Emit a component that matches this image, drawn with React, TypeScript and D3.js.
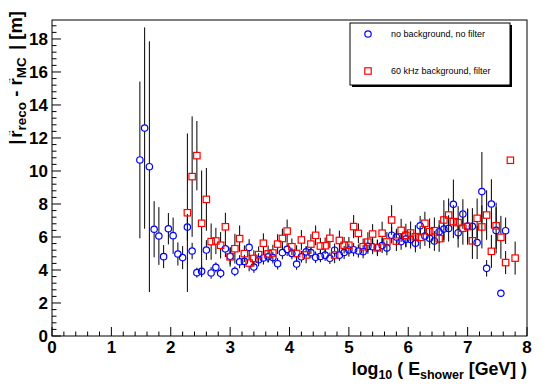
import React from "react";
import * as d3 from "d3";

// bin centres of log10(E_shower / GeV), one entry per histogram bin
const binCenters = [
  1.48, 1.56, 1.64, 1.72, 1.8, 1.88, 1.96, 2.04, 2.12, 2.2,
  2.28, 2.36, 2.44, 2.52, 2.6, 2.68, 2.76, 2.84, 2.92, 3.0,
  3.08, 3.16, 3.24, 3.32, 3.4, 3.48, 3.56, 3.64, 3.72, 3.8,
  3.88, 3.96, 4.04, 4.12, 4.2, 4.28, 4.36, 4.44, 4.52, 4.6,
  4.68, 4.76, 4.84, 4.92, 5.0, 5.08, 5.16, 5.24, 5.32, 5.4,
  5.48, 5.56, 5.64, 5.72, 5.8, 5.88, 5.96, 6.04, 6.12, 6.2,
  6.28, 6.36, 6.44, 6.52, 6.6, 6.68, 6.76, 6.84, 6.92, 7.0,
  7.08, 7.16, 7.24, 7.32, 7.4, 7.48, 7.56, 7.64, 7.72, 7.8,
];

// no background, no filter
const blueY = [
  10.67, 12.6, 10.26, 6.47, 6.06, 4.81, 6.5, 6.08, 4.97, 4.75,
  6.6, 5.15, 3.84, 3.92, 5.21, 3.82, 4.16, 3.8, 5.28, 4.83,
  3.92, 4.5, 4.52, 5.37, 4.18, 4.62, 4.73, 4.8, 4.75, 4.38,
  5.05, 5.25, 5.0, 4.36, 4.8, 5.1, 5.05, 4.77, 4.82, 4.9,
  4.71, 5.2, 4.9, 5.06, 5.21, 5.23, 5.15, 5.11, 5.43, 5.41,
  5.38, 5.48, 5.34, 6.11, 6.0, 5.72, 5.87, 5.85, 5.62, 6.68,
  6.06, 5.92, 5.76, 6.32, 6.48, 6.52, 7.98, 6.26, 7.39, 6.67,
  6.65, 5.66, 8.75, 4.1, 8.0, 6.4, 2.59, 6.38, null, null,
];
const blueErr = [
  4.75, 6.1, 7.6, 1.7, 1.75, 0.7, 0.95, 1.1, 0.7, 0.7,
  0.8, 0.5, 0.3, 0.35, 0.6, 0.35, 0.3, 0.3, 0.5, 0.5,
  0.3, 0.4, 0.4, 0.5, 0.35, 0.4, 0.4, 0.35, 0.35, 0.35,
  0.4, 0.4, 0.35, 0.35, 0.35, 0.35, 0.35, 0.35, 0.35, 0.35,
  0.35, 0.4, 0.35, 0.4, 0.4, 0.4, 0.4, 0.4, 0.45, 0.45,
  0.45, 0.45, 0.45, 0.5, 0.5, 0.5, 0.5, 0.55, 0.55, 0.6,
  0.6, 0.6, 0.6, 0.7, 0.8, 0.8, 1.5, 0.9, 0.9, 1.0,
  1.1, 1.0, 2.4, 0.5, 1.5, 1.4, 0.1, 0.8, null, null,
];

// 60 kHz background, filter
const redY = [
  null, null, null, null, null, null, null, null, null, null,
  7.47, 9.66, 10.93, 6.83, 8.28, 5.72, 5.76, 5.5, 6.62, 4.8,
  5.29, 5.9, 4.99, 4.42, 4.7, 4.93, 5.62, 4.98, 5.03, 5.57,
  5.91, 6.36, 5.41, 5.0, 5.82, 4.91, 5.57, 6.1, 5.45, 5.47,
  5.92, 4.91, 5.79, 5.5, 5.5, 6.63, 6.22, 5.41, 5.69, 6.18,
  5.34, 6.23, 5.7, 7.03, 5.75, 6.4, 6.1, 6.24, 6.02, 5.98,
  6.83, 6.32, 6.38, 5.9, 7.03, 7.33, 6.93, 6.87, 6.53, 6.63,
  5.77, 7.13, 6.61, 7.33, 5.13, 6.68, 5.98, 4.45, 10.65, 4.72,
];
const redErr = [
  null, null, null, null, null, null, null, null, null, null,
  4.8, 3.65, 2.1, 3.2, 1.9, 1.1, 0.8, 0.8, 0.85, 0.6,
  0.9, 0.8, 0.5, 0.5, 0.5, 0.5, 0.6, 0.5, 0.5, 0.6,
  0.6, 0.7, 0.5, 0.5, 0.6, 0.5, 0.6, 0.6, 0.5, 0.5,
  0.6, 0.5, 0.6, 0.5, 0.5, 0.7, 0.6, 0.5, 0.6, 0.6,
  0.5, 0.7, 0.6, 0.9, 0.6, 0.7, 0.7, 0.7, 0.7, 0.7,
  0.7, 0.8, 0.8, 0.8, 1.2, 1.0, 1.0, 1.0, 1.0, 1.1,
  1.1, 1.2, 1.3, 1.5, 1.0, 1.4, 1.3, 0.7, 0, 1.0,
];

const xTickLabels = ["0", "1", "2", "3", "4", "5", "6", "7", "8"];
const yTickLabels = ["0", "2", "4", "6", "8", "10", "12", "14", "16", "18"];
const legendLabels = ["no background, no filter", "60 kHz background, filter"];

const width = 545;
const height = 389;
const frame = { left: 52, right: 527, top: 20, bottom: 336 };
const font = "'Liberation Sans', Arial, Helvetica, sans-serif";
const markR = 3.2;

type Pt = { x: number; y: number; e: number };

function toPoints(ys: (number | null)[], errs: (number | null)[]): Pt[] {
  const pts: Pt[] = [];
  ys.forEach((v, i) => {
    if (v == null) return;
    pts.push({ x: binCenters[i], y: v, e: errs[i] ?? 0 });
  });
  return pts;
}

export default function App() {
  const x = d3.scaleLinear().domain([0, 8]).range([frame.left, frame.right]);
  const y = d3.scaleLinear().domain([0, 19.15]).range([frame.bottom, frame.top]);

  const blue = toPoints(blueY, blueErr);
  const red = toPoints(redY, redErr);

  const xMinor = d3.range(0, 8.001, 0.2);
  const yMinor = d3.range(0, 19.15, 0.4);

  // error bar, broken around the marker like ROOT does
  const errBars = (pts: Pt[], key: string) =>
    pts.map((p, i) => {
      const cx = x(p.x);
      const cy = y(p.y);
      const top = y(p.y + p.e);
      const bot = y(p.y - p.e);
      const segs: JSX.Element[] = [];
      if (top < cy - markR)
        segs.push(<line key={key + i + "t"} x1={cx} x2={cx} y1={top} y2={cy - markR} />);
      if (bot > cy + markR)
        segs.push(<line key={key + i + "b"} x1={cx} x2={cx} y1={cy + markR} y2={bot} />);
      return segs;
    });

  return (
    <svg
      width={width}
      height={height}
      style={{ position: "absolute", left: 0, top: 0, background: "#fff" }}
      fontFamily={font}
    >
      <rect x={0} y={0} width={width} height={height} fill="#fff" />

      {/* frame */}
      <rect
        x={frame.left}
        y={frame.top}
        width={frame.right - frame.left}
        height={frame.bottom - frame.top}
        fill="none"
        stroke="#000"
        strokeWidth={1}
      />

      {/* ticks */}
      <g stroke="#000" strokeWidth={1}>
        {xMinor.map((t, i) => {
          const major = i % 5 === 0;
          return (
            <line
              key={"xt" + i}
              x1={x(t)}
              x2={x(t)}
              y1={frame.bottom}
              y2={frame.bottom - (major ? 9 : 4.5)}
            />
          );
        })}
        {yMinor.map((t, i) => {
          const major = i % 5 === 0;
          return (
            <line
              key={"yt" + i}
              x1={frame.left}
              x2={frame.left + (major ? 9 : 4.5)}
              y1={y(t)}
              y2={y(t)}
            />
          );
        })}
      </g>

      {/* tick labels */}
      <g fontSize={17} fontWeight="bold" fill="#000">
        {xTickLabels.map((l) => (
          <text key={"xl" + l} x={x(+l)} y={353} textAnchor="middle">
            {l}
          </text>
        ))}
        {yTickLabels.map((l) => (
          <text key={"yl" + l} x={48} y={y(+l) + 6} textAnchor="end">
            {l}
          </text>
        ))}
      </g>

      {/* axis titles */}
      <text x={527} y={375} textAnchor="end" fontSize={17.8} fontWeight="bold">
        log
        <tspan fontSize={12.5} dy={4}>10</tspan>
        <tspan dy={-4}>{" ( E"}</tspan>
        <tspan fontSize={12.5} dy={4}>shower</tspan>
        <tspan dy={-4}>{" [GeV] )"}</tspan>
      </text>
      <text
        transform="translate(22,11) rotate(-90)"
        textAnchor="end"
        fontSize={18.5}
        fontWeight="bold"
      >
        {"|"}
        <tspan dx={2}>r</tspan>
        <tspan fontSize={8} dx={-6.8} dy={-11}>→</tspan>
        <tspan fontSize={13.5} dx={-1.2} dy={15}>reco</tspan>
        <tspan dy={-4}>{" - "}</tspan>
        <tspan>r</tspan>
        <tspan fontSize={8} dx={-6.8} dy={-11}>→</tspan>
        <tspan fontSize={13.5} dx={-1.2} dy={15}>MC</tspan>
        <tspan dy={-4} dx={2}>{" | [m]"}</tspan>
      </text>

      {/* error bars */}
      <g stroke="#000" strokeWidth={1}>
        {errBars(blue, "b")}
        {errBars(red, "r")}
      </g>

      {/* markers */}
      <g fill="none" stroke="#0000ff" strokeWidth={1.2}>
        {blue.map((p, i) => (
          <circle key={"bc" + i} cx={x(p.x)} cy={y(p.y)} r={markR} />
        ))}
      </g>
      <g fill="none" stroke="#ff0000" strokeWidth={1.2}>
        {red.map((p, i) => (
          <rect
            key={"rs" + i}
            x={x(p.x) - markR}
            y={y(p.y) - markR}
            width={markR * 2}
            height={markR * 2}
          />
        ))}
      </g>

      {/* legend */}
      <rect x={352} y={25} width={160} height={62} fill="#000" />
      <rect x={350} y={23} width={160} height={62} fill="#fff" stroke="#000" strokeWidth={1} />
      <circle cx={368} cy={34} r={markR} fill="none" stroke="#0000ff" strokeWidth={1.2} />
      <rect
        x={368 - markR}
        y={71 - markR}
        width={markR * 2}
        height={markR * 2}
        fill="none"
        stroke="#ff0000"
        strokeWidth={1.2}
      />
      <g fontSize={9} fill="#000">
        <text x={391} y={37}>{legendLabels[0]}</text>
        <text x={391} y={74}>{legendLabels[1]}</text>
      </g>
    </svg>
  );
}
